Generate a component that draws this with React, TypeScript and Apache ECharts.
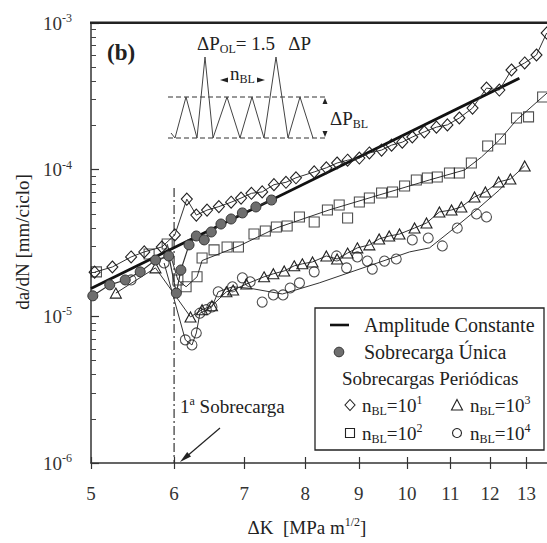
import React, { useEffect, useRef } from "react";
import * as echarts from "echarts";

const SERIF = "Liberation Serif";
const INK = "#222";

// axis ticks
const kTicks = [5, 6, 7, 8, 9, 10, 11, 12, 13];
const rateDecades = [1e-6, 1e-5, 1e-4, 1e-3];
const minorMantissas = [2, 3, 4, 5, 6, 7, 8, 9];

// first overload position
const overloadK = 6;
const overloadTop = 7.5e-5;

// constant amplitude (Paris line)
const constK = [5, 12.8];
const constRate = [1.55e-5, 4.2e-4];

// single overload
const singleK = [5.02, 5.21, 5.39, 5.57, 5.76, 5.93, 6.03, 6.09, 6.2, 6.3, 6.41, 6.51, 6.65, 6.8, 6.97, 7.18, 7.43];
const singleRate = [1.38e-5, 1.64e-5, 1.77e-5, 2.01e-5, 2.42e-5, 2.58e-5, 1.44e-5, 2.07e-5, 3.07e-5, 3.53e-5, 3.32e-5, 3.76e-5, 4.26e-5, 4.61e-5, 5.07e-5, 5.57e-5, 6.21e-5];

// periodic overloads, n_BL = 10^1
const bl1K = [5.04, 5.24, 5.46, 5.62, 5.84, 6.01, 6.17, 6.3, 6.45, 6.62, 6.8, 6.95, 7.11, 7.28, 7.47, 7.67, 7.84, 8.16, 8.38, 8.58, 8.78, 9.01, 9.21, 9.46, 9.67, 9.9, 10.12, 10.39, 10.67, 10.93, 11.22, 11.55, 11.91, 12.25, 12.58, 12.95, 13.29, 13.59];
const bl1Rate = [2.0e-5, 2.17e-5, 2.54e-5, 2.75e-5, 2.97e-5, 3.59e-5, 6.3e-5, 4.9e-5, 5.3e-5, 5.6e-5, 6.0e-5, 6.4e-5, 6.9e-5, 7.05e-5, 7.9e-5, 8.2e-5, 8.8e-5, 9.65e-5, 1.03e-4, 1.11e-4, 1.16e-4, 1.2e-4, 1.3e-4, 1.36e-4, 1.47e-4, 1.54e-4, 1.67e-4, 1.81e-4, 1.95e-4, 2.02e-4, 2.25e-4, 2.63e-4, 3.6e-4, 3.49e-4, 4.78e-4, 5.34e-4, 6.05e-4, 8.55e-4];

// periodic overloads, n_BL = 10^2
const bl2K = [5.06, 5.68, 5.91, 6.05, 6.16, 6.31, 6.38, 6.55, 6.74, 6.91, 7.15, 7.33, 7.51, 7.69, 7.9, 8.16, 8.4, 8.62, 8.78, 9.01, 9.21, 9.46, 9.69, 9.95, 10.21, 10.46, 10.69, 10.98, 11.22, 11.52, 11.94, 12.28, 12.72, 13.06, 13.47];
const bl2Rate = [2.01e-5, 2.66e-5, 3.11e-5, 1.77e-5, 1.59e-5, 1.86e-5, 2.5e-5, 2.84e-5, 2.97e-5, 2.97e-5, 3.64e-5, 3.82e-5, 4.07e-5, 4.13e-5, 4.76e-5, 4.4e-5, 5.31e-5, 5.74e-5, 4.68e-5, 6.02e-5, 6.41e-5, 6.94e-5, 7.05e-5, 7.74e-5, 8.51e-5, 8.78e-5, 8.92e-5, 9.5e-5, 9.5e-5, 1.11e-4, 1.45e-4, 1.62e-4, 2.25e-4, 2.29e-4, 3.13e-4];
const bl2FitK = [5.91, 6.05, 6.16, 6.31, 6.38, 6.92, 7.51, 8.43, 9.41, 10.51, 11.35, 11.78, 12.25, 12.72, 13.6];
const bl2FitRate = [3.11e-5, 1.77e-5, 1.59e-5, 1.86e-5, 2.4e-5, 3.02e-5, 4.0e-5, 5.31e-5, 6.72e-5, 8.51e-5, 9.95e-5, 1.22e-4, 1.59e-4, 2.18e-4, 3.33e-4];

// periodic overloads, n_BL = 10^3
const bl3K = [5.28, 5.76, 6.22, 6.38, 6.52, 6.73, 6.83, 7.03, 7.31, 7.46, 7.64, 7.81, 7.95, 8.13, 8.38, 8.58, 8.78, 8.97, 9.21, 9.41, 9.62, 9.84, 10.17, 10.44, 10.74, 11.03, 11.27, 11.6, 11.88, 12.23, 12.55, 12.95];
const bl3Rate = [1.44e-5, 2.14e-5, 9.91e-6, 1.11e-5, 1.18e-5, 1.47e-5, 1.51e-5, 1.66e-5, 1.86e-5, 1.95e-5, 2.04e-5, 2.21e-5, 2.28e-5, 2.35e-5, 2.58e-5, 2.46e-5, 2.7e-5, 2.93e-5, 3.07e-5, 3.37e-5, 3.53e-5, 3.64e-5, 4.0e-5, 4.33e-5, 5.15e-5, 5.31e-5, 5.57e-5, 6.51e-5, 7.05e-5, 8.24e-5, 8.64e-5, 1.06e-4];

// periodic overloads, n_BL = 10^4
const bl4K = [5.46, 5.87, 6.15, 6.24, 6.3, 6.35, 6.44, 6.52, 6.61, 6.82, 6.97, 7.09, 7.28, 7.46, 7.62, 7.74, 7.9, 8.16, 8.57, 8.76, 8.97, 9.17, 9.27, 9.52, 9.77, 10.12, 10.48, 10.81, 11.17, 11.65, 11.91];
const bl4Rate = [1.77e-5, 2.31e-5, 6.91e-6, 6.38e-6, 7.7e-6, 1.05e-5, 1.11e-5, 1.16e-5, 1.47e-5, 1.59e-5, 1.83e-5, 1.72e-5, 1.25e-5, 1.4e-5, 1.4e-5, 1.56e-5, 1.69e-5, 2.01e-5, 2.58e-5, 2.14e-5, 2.54e-5, 2.38e-5, 2.1e-5, 2.38e-5, 2.46e-5, 3.32e-5, 3.42e-5, 3.02e-5, 4.0e-5, 4.99e-5, 4.76e-5];
const bl4FitK = [5.87, 6.15, 6.24, 6.3, 6.35, 6.52, 6.61, 6.82, 7.1, 7.61, 8.25, 10.06, 10.51, 11.1, 11.68, 12.25, 12.45];
const bl4FitRate = [2.31e-5, 6.91e-6, 6.38e-6, 7.7e-6, 1.05e-5, 1.16e-5, 1.47e-5, 1.59e-5, 1.55e-5, 1.42e-5, 1.69e-5, 2.75e-5, 2.93e-5, 4.0e-5, 5.4e-5, 7.27e-5, 8.2e-5];

const zip = (xs: number[], ys: number[]) => xs.map((x, i) => [x, ys[i]]);

const hollow = { color: "rgba(255,255,255,0)", borderColor: INK, borderWidth: 1.1 };
const thin = { color: "#333", width: 1 };

const txt = (x: number, y: number, text: string, rich: any, extra: any = {}) => ({
  type: "text",
  silent: true,
  style: {
    x,
    y,
    text,
    rich,
    fill: INK,
    fontFamily: SERIF,
    fontSize: 19,
    align: "left",
    textAlign: "left",
    verticalAlign: "middle",
    textVerticalAlign: "middle",
    ...extra,
  },
});

const baseRich = (size = 19) => ({
  a: { fontSize: size, fontFamily: SERIF, fill: INK, lineHeight: size + 4 },
  s: { fontSize: Math.round(size * 0.62), fontFamily: SERIF, fill: INK, lineHeight: Math.round(size * 0.62), verticalAlign: "bottom" },
  p: { fontSize: Math.round(size * 0.62), fontFamily: SERIF, fill: INK, lineHeight: Math.round(size * 0.62), verticalAlign: "top" },
});

export default function App() {
  const ref = useRef<HTMLDivElement>(null);

  useEffect(() => {
    if (!ref.current) return;
    const chart = echarts.init(ref.current, null, { renderer: "svg" });

    const minorRates = rateDecades.slice(0, 3).flatMap((d) => minorMantissas.map((m) => m * d));
    const logX = { type: "log", logBase: 10, min: 5, max: 13.6 };
    const logY = { type: "log", logBase: 10, min: 1e-6, max: 1e-3 };
    const axisLine = { show: true, onZero: false, lineStyle: { color: "#333", width: 1.5 } };
    const plotBox = { left: 91, right: 0, top: 23, bottom: 80 };

    // sketch of the load spectrum (inset)
    const wave = [[171, 133], [175, 138], [186, 97], [197, 138], [205, 57], [213, 138], [227, 97], [240, 138], [252, 97], [264, 138], [276, 57], [288, 138], [300, 97], [313, 138]];

    const option: any = {
      animation: false,
      backgroundColor: "#fff",
      grid: [plotBox, plotBox],
      xAxis: [
        {
          ...logX,
          gridIndex: 0,
          position: "bottom",
          axisLine,
          splitLine: { show: false },
          axisTick: { show: true, inside: true, length: 6, customValues: kTicks, lineStyle: { color: "#333", width: 1.2 } },
          axisLabel: {
            customValues: kTicks,
            formatter: (v: number) => String(Math.round(v)),
            fontSize: 19,
            fontFamily: SERIF,
            color: "#333",
            margin: 21,
          },
        },
        {
          ...logX,
          gridIndex: 1,
          position: "bottom",
          axisLine: { show: false },
          splitLine: { show: false },
          axisTick: { show: true, inside: false, length: 6, customValues: kTicks, lineStyle: { color: "#333", width: 1.2 } },
          axisLabel: { show: false },
        },
      ],
      yAxis: [
        {
          ...logY,
          gridIndex: 0,
          position: "left",
          axisLine,
          splitLine: { show: false },
          axisTick: { show: true, inside: true, length: 8, customValues: rateDecades, lineStyle: { color: "#333", width: 1.2 } },
          axisLabel: {
            customValues: rateDecades,
            formatter: (v: number) => `{b|10}{s|${Math.round(Math.log10(v))}}`,
            margin: 19,
            rich: {
              b: { fontSize: 19, fontFamily: SERIF, color: "#333", lineHeight: 22 },
              s: { fontSize: 12, fontFamily: SERIF, color: "#333", lineHeight: 12, verticalAlign: "top" },
            },
          },
        },
        {
          ...logY,
          gridIndex: 1,
          position: "left",
          axisLine: { show: false },
          splitLine: { show: false },
          axisTick: { show: true, inside: true, length: 5, customValues: minorRates, lineStyle: { color: "#444", width: 1 } },
          axisLabel: { show: false },
        },
      ],
      series: [
        {
          type: "line",
          data: [[overloadK, overloadTop], [overloadK, 1e-6]],
          symbol: "none",
          silent: true,
          lineStyle: { color: "#333", width: 1.2, type: [9, 3, 2, 3] },
          z: 1,
        },
        {
          type: "line",
          data: zip(constK, constRate),
          symbol: "none",
          silent: true,
          lineStyle: { color: "#111", width: 2.8 },
          z: 3,
        },
        {
          type: "line",
          data: zip(bl2FitK, bl2FitRate),
          symbol: "none",
          silent: true,
          lineStyle: thin,
          z: 2,
        },
        {
          type: "line",
          data: zip(bl4FitK, bl4FitRate),
          symbol: "none",
          silent: true,
          lineStyle: thin,
          z: 2,
        },
        {
          type: "line",
          data: zip(bl1K, bl1Rate),
          symbol: "diamond",
          symbolSize: [11, 12],
          showSymbol: true,
          silent: true,
          lineStyle: thin,
          itemStyle: hollow,
          z: 4,
        },
        {
          type: "line",
          data: zip(bl3K, bl3Rate),
          symbol: "triangle",
          symbolSize: [11, 10],
          showSymbol: true,
          silent: true,
          lineStyle: thin,
          itemStyle: hollow,
          z: 4,
        },
        {
          type: "scatter",
          data: zip(bl2K, bl2Rate),
          symbol: "rect",
          symbolSize: 10,
          silent: true,
          itemStyle: hollow,
          z: 4,
        },
        {
          type: "scatter",
          data: zip(bl4K, bl4Rate),
          symbol: "circle",
          symbolSize: 10,
          silent: true,
          itemStyle: hollow,
          z: 4,
        },
        {
          type: "line",
          data: zip(singleK, singleRate),
          symbol: "circle",
          symbolSize: 10,
          showSymbol: true,
          silent: true,
          lineStyle: { color: "#333", width: 1.2 },
          itemStyle: { color: "#6e6e6e", borderColor: "#333", borderWidth: 1 },
          z: 5,
        },
      ],
      graphic: [
        // top frame edge
        {
          type: "rect",
          silent: true,
          z: 100,
          shape: { x: 90, y: 21.5, width: 457, height: 2.5 },
          style: { fill: "#222" },
        },
        // axis titles
        {
          type: "text",
          silent: true,
          rotation: Math.PI / 2,
          x: 22,
          y: 242,
          style: {
            text: "da/dN [mm/ciclo]",
            fill: INK,
            fontFamily: SERIF,
            fontSize: 19,
            align: "center",
            textAlign: "center",
            verticalAlign: "middle",
            textVerticalAlign: "middle",
          },
        },
        txt(307, 527, "{a|ΔK  [MPa m}{p|1/2}{a|]}", baseRich(19), { align: "center", textAlign: "center" }),
        // panel tag
        txt(107, 52, "(b)", null, { fontSize: 23, fontWeight: "bold" }),
        // load spectrum inset
        {
          type: "line",
          silent: true,
          shape: { x1: 168, y1: 97, x2: 328, y2: 97 },
          style: { stroke: "#333", lineWidth: 1, lineDash: [5, 3] },
        },
        {
          type: "line",
          silent: true,
          shape: { x1: 168, y1: 138, x2: 328, y2: 138 },
          style: { stroke: "#333", lineWidth: 1, lineDash: [5, 3] },
        },
        {
          type: "polyline",
          silent: true,
          shape: { points: wave },
          style: { stroke: "#444", lineWidth: 1, fill: null },
        },
        { type: "polygon", silent: true, shape: { points: [[220, 80], [228, 77.5], [228, 82.5]] }, style: { fill: INK } },
        { type: "polygon", silent: true, shape: { points: [[265, 80], [257, 77.5], [257, 82.5]] }, style: { fill: INK } },
        { type: "polygon", silent: true, shape: { points: [[325, 98], [322.5, 104], [327.5, 104]] }, style: { fill: INK } },
        { type: "polygon", silent: true, shape: { points: [[325, 137], [322.5, 131], [327.5, 131]] }, style: { fill: INK } },
        txt(197, 43, "{a|ΔP}{s|OL}{a|= 1.5   ΔP}", baseRich(19)),
        txt(230, 73, "{a|n}{s|BL}", baseRich(19)),
        txt(330, 118, "{a|ΔP}{s|BL}", baseRich(19)),
        // overload annotation
        txt(180, 406, "{a|1}{p|a}{a| Sobrecarga}", baseRich(19)),
        {
          type: "line",
          silent: true,
          shape: { x1: 220, y1: 428, x2: 186, y2: 457 },
          style: { stroke: INK, lineWidth: 1.2 },
        },
        { type: "polygon", silent: true, shape: { points: [[180, 462], [191, 456.5], [187.2, 451.9]] }, style: { fill: INK } },
        // legend
        {
          type: "rect",
          silent: true,
          shape: { x: 315, y: 308, width: 229, height: 142 },
          style: { fill: "#fff", stroke: INK, lineWidth: 1.3 },
        },
        { type: "line", silent: true, shape: { x1: 330, y1: 325, x2: 349, y2: 325 }, style: { stroke: "#111", lineWidth: 2.6 } },
        txt(364, 325, "Amplitude Constante", null, { fontSize: 20 }),
        { type: "circle", silent: true, shape: { cx: 339, cy: 352, r: 4.8 }, style: { fill: "#6e6e6e", stroke: "#333", lineWidth: 1 } },
        txt(364, 352, "Sobrecarga Única", null, { fontSize: 20 }),
        txt(342, 378, "Sobrecargas Periódicas", null),
        { type: "polygon", silent: true, shape: { points: [[350, 399.5], [355, 405], [350, 410.5], [345, 405]] }, style: { fill: "none", stroke: INK, lineWidth: 1.1 } },
        txt(362, 405, "{a|n}{s|BL}{a|=10}{p|1}", baseRich(19)),
        { type: "polygon", silent: true, shape: { points: [[457, 399.5], [462.5, 410], [451.5, 410]] }, style: { fill: "none", stroke: INK, lineWidth: 1.1 } },
        txt(470, 405, "{a|n}{s|BL}{a|=10}{p|3}", baseRich(19)),
        { type: "rect", silent: true, shape: { x: 345.5, y: 428.5, width: 9, height: 9 }, style: { fill: "none", stroke: INK, lineWidth: 1.1 } },
        txt(362, 433, "{a|n}{s|BL}{a|=10}{p|2}", baseRich(19)),
        { type: "circle", silent: true, shape: { cx: 457, cy: 433, r: 4.5 }, style: { fill: "none", stroke: INK, lineWidth: 1.1 } },
        txt(470, 433, "{a|n}{s|BL}{a|=10}{p|4}", baseRich(19)),
      ],
    };

    chart.setOption(option);
    return () => chart.dispose();
  }, []);

  return (
    <div
      ref={ref}
      style={{ position: "fixed", left: 0, top: 0, width: 547, height: 543, background: "#fff" }}
    />
  );
}
